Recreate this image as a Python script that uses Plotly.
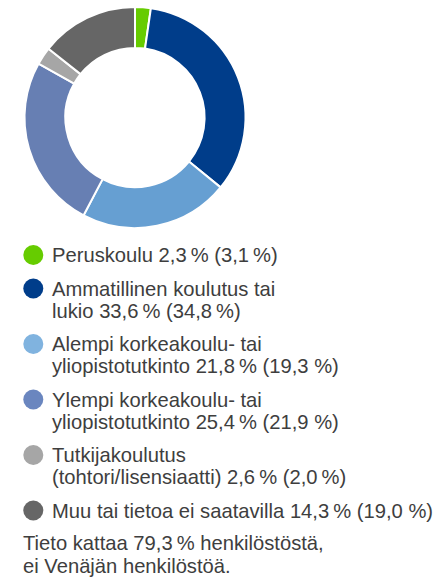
import plotly.graph_objects as go

# Koulutustaso henkilöstöstä, % (edellisen vuoden luku suluissa)
categories = [
    "Peruskoulu",
    "Ammatillinen koulutus tai<br>lukio",
    "Alempi korkeakoulu- tai<br>yliopistotutkinto",
    "Ylempi korkeakoulu- tai<br>yliopistotutkinto",
    "Tutkijakoulutus<br>(tohtori/lisensiaatti)",
    "Muu tai tietoa ei saatavilla",
]
share_now = [2.3, 33.6, 21.8, 25.4, 2.6, 14.3]
share_prev = [3.1, 34.8, 19.3, 21.9, 2.0, 19.0]
# narrow (thin) space before % in the previous-year figure?
prev_thin = [True, True, False, False, True, False]
colors = ["#66CC00", "#003D8A", "#669FD2", "#677FB3", "#A6A6A6", "#666666"]
dot_colors = ["#66CC00", "#003D8A", "#80B3DF", "#6A86BF", "#A6A6A6", "#666666"]
coverage = 79.3
footnote = "Tieto kattaa {} henkilöstöstä,<br>ei Venäjän henkilöstöä."

W, H = 440, 578
THIN = "\u2009"


def fi(v):
    return f"{v:.1f}".replace(".", ",")


fig = go.Figure()

# donut, centre (135, 117.5) px, outer radius 110.5 px
cx, cy, r = 135, 117.5, 110.5
fig.add_trace(go.Pie(
    values=share_now,
    labels=[c.replace("<br>", " ") for c in categories],
    marker=dict(colors=colors, line=dict(color="white", width=2)),
    hole=0.63,
    sort=False,
    direction="clockwise",
    rotation=0,
    textinfo="none",
    hoverinfo="label+value",
    showlegend=False,
    domain=dict(x=[(cx - r) / W, (cx + r) / W], y=[1 - (cy + r) / H, 1 - (cy - r) / H]),
))

font = dict(family="Liberation Sans, Arial, sans-serif", size=20.2, color="#3E3E3E")
line_h = 22
gap = 33.5
annotations = []
shapes = []


def add_lines(text, x_px, y_px, spacing):
    """Place each text line separately, centred vertically at y_px, y_px+spacing, ..."""
    lines = text.split("<br>")
    for i, ln in enumerate(lines):
        annotations.append(dict(
            x=x_px / W, y=1 - (y_px + i * spacing) / H, xref="paper", yref="paper",
            xanchor="left", yanchor="middle", align="left", showarrow=False,
            borderpad=0, text=ln, font=font,
        ))
    return len(lines)


y = 255  # centre of first text line, px
for name, now, prev, thin, dc in zip(categories, share_now, share_prev, prev_thin, dot_colors):
    sep = THIN if thin else " "
    text = f"{name} {fi(now)}{THIN}% ({fi(prev)}{sep}%)"
    nlines = add_lines(text, 51, y, line_h)
    shapes.append(dict(
        type="circle", xref="paper", yref="paper",
        xsizemode="pixel", ysizemode="pixel",
        xanchor=33.3 / W, yanchor=1 - y / H,
        x0=-10, x1=10, y0=-10, y1=10,
        fillcolor=dc, line=dict(width=0),
    ))
    y += line_h * (nlines - 1) + gap

add_lines(footnote.format(f"{fi(coverage)}{THIN}%"), 22, y - 1, 22.5)

fig.update_layout(
    width=W, height=H,
    margin=dict(l=0, r=0, t=0, b=0),
    paper_bgcolor="white", plot_bgcolor="white",
    annotations=annotations, shapes=shapes,
)

fig.write_html("out.html")
